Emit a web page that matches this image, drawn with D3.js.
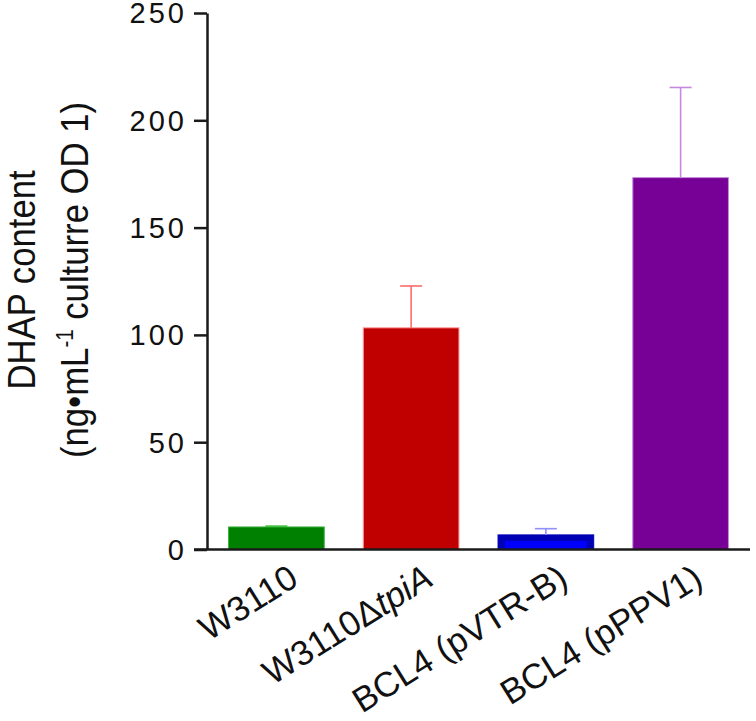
<!DOCTYPE html>
<html>
<head>
<meta charset="utf-8">
<script src="https://cdn.jsdelivr.net/npm/d3@7"></script>
<style>
  body { margin: 0; background: #fff; }
  #graph-container { width: 756px; height: 721px; }
  text { font-family: Arial, "Liberation Sans", sans-serif; }
</style>
</head>
<body>
<div id="graph-container"></div>
<script>
// data
const strains = ["W3110", "W3110\u0394tpiA", "BCL4 (pVTR-B)", "BCL4 (pPPV1)"];
const dhapMean = [10.5, 103.3, 6.8, 173.3];
const dhapErr = [0.4, 19.5, 2.9, 42.0];
const yTicks = [0, 50, 100, 150, 200, 250];

const barFill = ["#008000", "#c00000", "#0000b4", "#770096"];
const barEdge = ["#3cae3c", "#ff9a9a", "#0000b4", "#c58ae0"];
const errColor = ["#3cc03c", "#ff6a6a", "#9090ff", "#c58ae0"];

const width = 756, height = 721;
const margin = {left: 207, right: 6, top: 13, bottom: 172};

const svg = d3.select("#graph-container").append("svg")
  .attr("width", width).attr("height", height);

const x = d3.scaleBand()
  .domain(strains)
  .range([margin.left, 750])
  .paddingInner(0.29)
  .paddingOuter(0.16);

const y = d3.scaleLinear()
  .domain([0, 250])
  .range([549.5, margin.top]);

const rows = strains.map(function(s, i) {
  return {name: s, mean: dhapMean[i], err: dhapErr[i], i: i};
});

// bars
const bars = svg.append("g").attr("class", "bars");
bars.selectAll("rect.bar")
  .data(rows)
  .enter().append("rect")
  .attr("class", "bar")
  .attr("x", d => x(d.name))
  .attr("y", d => y(d.mean))
  .attr("width", x.bandwidth())
  .attr("height", d => y(0) - y(d.mean))
  .attr("fill", d => barFill[d.i])
  .attr("stroke", d => barEdge[d.i])
  .attr("stroke-width", 1);

// the blue bar has a bright inner fill
bars.selectAll("rect.inner")
  .data(rows.filter(d => d.i === 2))
  .enter().append("rect")
  .attr("class", "inner")
  .attr("x", d => x(d.name) + 7)
  .attr("y", d => y(d.mean) + 6)
  .attr("width", x.bandwidth() - 14)
  .attr("height", d => Math.max(0, y(0) - y(d.mean) - 6))
  .attr("fill", "#0000ff");

// error bars (upper only)
const err = svg.append("g").attr("class", "errors");
err.selectAll("line.stem")
  .data(rows)
  .enter().append("line")
  .attr("x1", d => x(d.name) + x.bandwidth() / 2)
  .attr("x2", d => x(d.name) + x.bandwidth() / 2)
  .attr("y1", d => y(d.mean))
  .attr("y2", d => y(d.mean + d.err))
  .attr("stroke", d => errColor[d.i])
  .attr("stroke-width", 1.6);
err.selectAll("line.cap")
  .data(rows)
  .enter().append("line")
  .attr("x1", d => x(d.name) + x.bandwidth() / 2 - 11)
  .attr("x2", d => x(d.name) + x.bandwidth() / 2 + 11)
  .attr("y1", d => y(d.mean + d.err))
  .attr("y2", d => y(d.mean + d.err))
  .attr("stroke", d => errColor[d.i])
  .attr("stroke-width", 1.6);

// y axis
const yAxis = svg.append("g")
  .attr("transform", "translate(" + margin.left + ",0)")
  .call(d3.axisLeft(y).tickValues(yTicks).tickSize(13).tickPadding(10).tickSizeOuter(0));
yAxis.select(".domain").attr("stroke", "#1a1a1a").attr("stroke-width", 2.5);
yAxis.selectAll(".tick line").attr("stroke", "#1a1a1a").attr("stroke-width", 2.5);
yAxis.selectAll(".tick text")
  .attr("font-size", "29px")
  .attr("letter-spacing", "3px")
  .attr("dx", "3px")
  .attr("dy", "0.34em")
  .attr("fill", "#111");

// x axis line
svg.append("line")
  .attr("x1", 194).attr("x2", 750)
  .attr("y1", y(0)).attr("y2", y(0))
  .attr("stroke", "#1a1a1a").attr("stroke-width", 2.5);

// x labels, rotated
svg.append("g").attr("class", "xlabels")
  .selectAll("text")
  .data(rows)
  .enter().append("text")
  .attr("text-anchor", "end")
  .attr("font-size", "35px")
  .attr("fill", "#111")
  .attr("transform", d => "translate(" + (x(d.name) + x.bandwidth() / 2 + 24) + ",584) rotate(-32)")
  .each(function(d) {
    const t = d3.select(this);
    if (d.i === 1) {
      t.append("tspan").text("W3110\u0394");
      t.append("tspan").attr("font-style", "italic").text("tpiA");
    } else {
      t.text(d.name);
    }
  });

// y title
const yTitle = svg.append("g").attr("transform", "translate(0,280) rotate(-90) scale(0.89,1)");
yTitle.append("text")
  .attr("x", 0).attr("y", 35)
  .attr("text-anchor", "middle")
  .attr("font-size", "39px")
  .attr("fill", "#111")
  .text("DHAP content");
const t2 = yTitle.append("text")
  .attr("x", 0).attr("y", 88)
  .attr("text-anchor", "middle")
  .attr("font-size", "39px")
  .attr("fill", "#111");
t2.append("tspan").text("(ng\u2022mL");
t2.append("tspan").attr("font-size", "23px").attr("dy", "-15").text("-1");
t2.append("tspan").attr("dy", "15").text(" culturre OD 1)");
</script>
</body>
</html>
